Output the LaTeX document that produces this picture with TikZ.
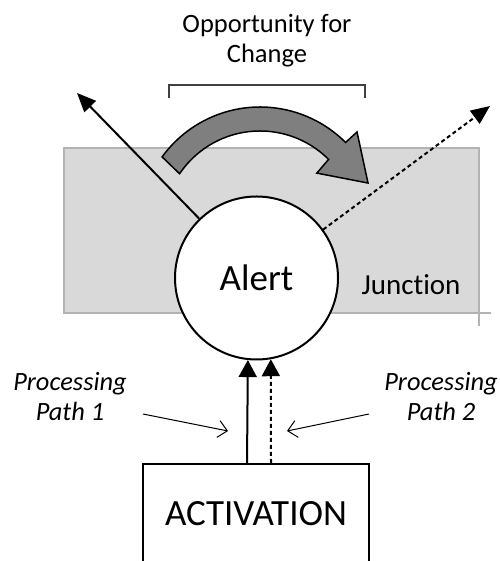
\documentclass[tikz,border=0pt]{standalone}
\usepackage{fontspec}
\setmainfont{Carlito}[Ligatures=NoCommon]
\usetikzlibrary{arrows.meta}

\definecolor{panelfill}{HTML}{D9D9D9}
\definecolor{panelline}{HTML}{B3B3B3}
\definecolor{bandfill}{HTML}{7F7F7F}
\definecolor{bracketline}{HTML}{404040}

\tikzset{
  labeltext/.style={font=\fontsize{26.5}{30}\selectfont, align=center, inner sep=0pt},
  pathtext/.style={font=\fontsize{26.4}{30}\selectfont\itshape, align=center, inner sep=0pt},
  alertnode/.style={circle, draw, line width=2pt, fill=white, minimum size=163pt, inner sep=0pt,
    font=\fontsize{37}{44}\selectfont},
  actbox/.style={rectangle, draw, line width=2pt, fill=white, minimum width=226pt, minimum height=99pt,
    inner sep=0pt, font=\fontsize{37}{44}\selectfont},
  outarrow/.style={line width=2pt, -{Triangle[length=19pt,width=16pt]}},
  inarrow/.style={line width=2pt, -{Triangle[length=17pt,width=18pt]}},
  dotline/.style={dash pattern=on 4pt off 3pt},
  pointer/.style={line width=1pt, -{Straight Barb[length=9pt,width=17pt,line width=1pt]}},
}

\begin{document}
\begin{tikzpicture}[x=1pt,y=1pt]
  \useasboundingbox (0,0) rectangle (499,561);
  \clip (0,0) rectangle (499,561);

  % junction panel, with its corner lines running a little past the edge
  \draw[panelline, fill=panelfill, line width=1.5pt] (64,248) rectangle (479,413);
  \draw[panelline, line width=1.5pt] (479,248) -- (491,248) (479,248) -- (479,235);
  \node[font=\fontsize{29}{34}\selectfont, anchor=base] (junction) at (411,266) {Junction};

  % title and bracket
  \node[labeltext] (title) at (267,520) {Opportunity for\\Change};
  \draw[bracketline, line width=1.5pt] (169,463) -- (169,476) -- (365,476) -- (365,463);

  % curved band arrow over the junction
  \draw[shift={(260,333)}, fill=bandfill, line width=1.5pt, line join=miter]
    (144:121) arc[start angle=144, end angle=45, radius=121]
    -- (44.7:136.5) -- (22.6:117) -- (44:79) -- (45:97)
    arc[start angle=45, end angle=146, radius=97] -- cycle;

  % alert circle and activation box
  \node[alertnode] (alert) at (256.5,283) {Alert};
  \node[actbox] (act) at (256,47.5) {ACTIVATION};

  % outgoing arrows
  \coordinate (outL) at (77,468);
  \coordinate (outR) at (490,455);
  \draw[outarrow] (alert.134) -- (outL);
  \draw[outarrow, dotline] (alert.36.4) -- (outR);

  % the two processing paths
  \coordinate (pathA) at ([xshift=-9pt]act.north);
  \coordinate (pathB) at ([xshift=15pt]act.north);
  \draw[inarrow] (pathA) -- (alert.-96.6);
  \draw[inarrow, dotline] (pathB) -- (alert.-80);

  % path labels and their pointers
  \node[pathtext] (lab1) at (70,164.5) {Processing\\Path 1};
  \node[pathtext] (lab2) at (441,164.5) {Processing\\Path 2};
  \coordinate (p1s) at (143,147);
  \coordinate (p1e) at (228,130);
  \coordinate (p2s) at (369,147);
  \coordinate (p2e) at (287,130);
  \draw[pointer] (p1s) -- (p1e);
  \draw[pointer] (p2s) -- (p2e);
\end{tikzpicture}
\end{document}
